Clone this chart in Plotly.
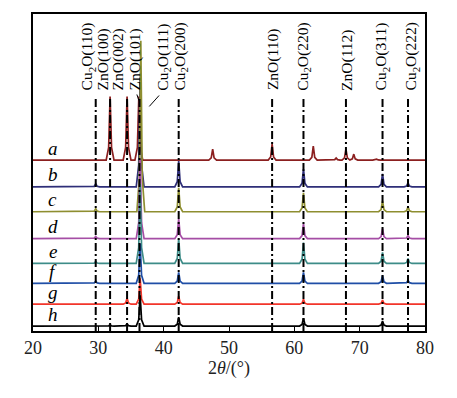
import plotly.graph_objects as go

# ---- data ----
series_names = ["a", "b", "c", "d", "e", "f", "g", "h"]
series_colors = ["#8b1f1f", "#2e2e78", "#8e8e30", "#a54ea5", "#3d8c88", "#1f4ea6", "#f2352a", "#000000"]
offsets = [172, 145, 120, 93, 68, 48, 27, 5]

# peak positions (2theta) and heights (arbitrary units) for each pattern
peaks_a_pos = [31.8, 34.4, 36.2, 47.5, 56.6, 62.9, 66.4, 67.9, 69.1, 72.6]
peaks_a_h = [64, 64, 64, 11, 16, 14, 2, 11, 6, 1]
peaks_b_pos = [29.6, 36.4, 42.3, 61.4, 73.5, 77.4]
peaks_b_h = [3, 110, 26, 18, 13, 4]
peaks_c_pos = [29.6, 36.5, 42.3, 61.4, 73.5, 77.4]
peaks_c_h = [3, 172, 24, 19, 11, 5]
peaks_d_pos = [29.6, 36.4, 42.3, 61.4, 73.5, 77.4]
peaks_d_h = [2, 80, 20, 15, 10, 3]
peaks_e_pos = [29.6, 36.4, 42.3, 61.4, 73.5, 77.4]
peaks_e_h = [2, 80, 25, 21, 11, 5]
peaks_f_pos = [29.6, 36.4, 42.3, 61.4, 73.5, 77.4]
peaks_f_h = [2, 40, 11, 11, 8, 3]
peaks_g_pos = [34.4, 36.4, 42.3, 61.4, 73.5]
peaks_g_h = [6, 26, 8, 5, 4]
peaks_h_pos = [31.8, 34.4, 36.4, 42.3, 61.4, 73.5]
peaks_h_h = [1, 2, 31, 9, 8, 5]

peak_pos = [peaks_a_pos, peaks_b_pos, peaks_c_pos, peaks_d_pos,
            peaks_e_pos, peaks_f_pos, peaks_g_pos, peaks_h_pos]
peak_h = [peaks_a_h, peaks_b_h, peaks_c_h, peaks_d_h,
          peaks_e_h, peaks_f_h, peaks_g_h, peaks_h_h]

ref_pos = [29.6, 31.8, 34.4, 36.3, 42.3, 56.6, 61.4, 67.9, 73.5, 77.4]
ref_labels = ["Cu<sub>2</sub>O(110)", "ZnO(100)", "ZnO(002)", "ZnO(101)",
              "Cu<sub>2</sub>O(200)", "ZnO(110)", "Cu<sub>2</sub>O(220)",
              "ZnO(112)", "Cu<sub>2</sub>O(311)", "Cu<sub>2</sub>O(222)"]
extra_label = "Cu<sub>2</sub>O(111)"

x_ticks = [20, 30, 40, 50, 60, 70, 80]

# ---- build figure ----
SERIF = "Liberation Serif, Times New Roman, serif"
prof_dx = [-0.6, -0.22, 0.0, 0.22, 0.6]
prof_k = [0.0, 0.2, 1.0, 0.2, 0.0]

fig = go.Figure()
for name, col, off, pp, hh in zip(series_names, series_colors, offsets, peak_pos, peak_h):
    xs, ys = [20.0], [off]
    for p, h in sorted(zip(pp, hh)):
        for dx, k in zip(prof_dx, prof_k):
            xs.append(p + dx)
            ys.append(off + h * k)
    xs.append(80.0)
    ys.append(off)
    fig.add_trace(go.Scatter(x=xs, y=ys, mode="lines", line=dict(color=col, width=1.7),
                             showlegend=False, hoverinfo="skip"))

line_top = 236
for p in ref_pos:
    fig.add_trace(go.Scatter(x=[p, p], y=[0, line_top], mode="lines",
                             line=dict(color="black", width=2, dash="8px,3px,2px,3px"),
                             showlegend=False, hoverinfo="skip"))

annotations = []
label_x = [28.4, 30.7, 33.0, 35.6, 42.5, 56.75, 61.35, 68.05, 73.4, 78.0]
for lx, txt in zip(label_x, ref_labels):
    annotations.append(dict(x=lx, y=240, xref="x", yref="y", text=txt, textangle=-90,
                            showarrow=False, xanchor="center", yanchor="bottom",
                            font=dict(family=SERIF, size=15.5, color="black")))
annotations.append(dict(x=39.85, y=240, xref="x", yref="y", text=extra_label, textangle=-90,
                        showarrow=False, xanchor="center", yanchor="bottom",
                        font=dict(family=SERIF, size=15.5, color="black")))
# leader lines for crowded labels
shapes = [
    dict(type="line", xref="x", yref="y", x0=37.8, y0=226, x1=39.3, y1=237,
         line=dict(color="black", width=1)),
    dict(type="line", xref="x", yref="y", x0=35.9, y0=238, x1=36.2, y1=232,
         line=dict(color="black", width=1)),
]

label_y_off = 12
for name, off in zip(series_names, offsets):
    annotations.append(dict(x=23.0, y=off + label_y_off, xref="x", yref="y",
                            text="<i>%s</i>" % name, showarrow=False,
                            xanchor="center", yanchor="middle",
                            font=dict(family=SERIF, size=19, color="black")))

# the page body adds an 8px margin; compensate so the plot sits where the reference's does
fig.update_layout(
    width=449, height=390,
    margin=dict(l=25, r=32, t=4, b=67),
    paper_bgcolor="white", plot_bgcolor="white",
    annotations=annotations, shapes=shapes,
    font=dict(family=SERIF, color="black"),
    xaxis=dict(range=[20, 80], tickvals=x_ticks, ticks="inside", ticklen=5,
               tickcolor="black", tickwidth=1.2, showline=True, linecolor="black",
               linewidth=1.5, mirror=True, showgrid=False, zeroline=False,
               tickfont=dict(family=SERIF, size=18, color="#222"),
               title=dict(text="2<i>θ</i>/(°)", font=dict(family=SERIF, size=18, color="#222"),
                          standoff=4)),
    yaxis=dict(range=[0, 319], showticklabels=False, ticks="", showline=True,
               linecolor="black", linewidth=1.5, mirror=True, showgrid=False,
               zeroline=False, fixedrange=True),
)

fig.write_html("out.html")
